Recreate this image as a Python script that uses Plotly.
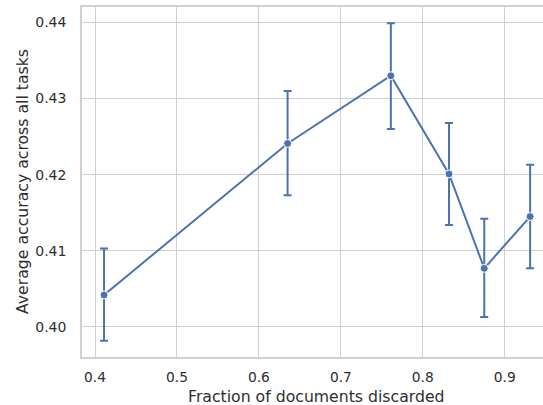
import plotly.graph_objects as go

frac_discarded = [0.411, 0.635, 0.761, 0.832, 0.875, 0.931]
avg_accuracy = [0.4042, 0.4241, 0.4330, 0.4201, 0.4077, 0.4145]
err_upper = [0.4103, 0.4310, 0.4399, 0.4268, 0.4142, 0.4213]
err_lower = [0.3982, 0.4173, 0.4260, 0.4134, 0.4013, 0.4077]

x_ticks = [0.4, 0.5, 0.6, 0.7, 0.8, 0.9]
y_ticks = [0.40, 0.41, 0.42, 0.43, 0.44]
x_title = "Fraction of documents discarded"
y_title = "Average accuracy across all tasks"

plus = [u - m for u, m in zip(err_upper, avg_accuracy)]
minus = [m - l for m, l in zip(avg_accuracy, err_lower)]

color = "#4c72b0"
fig = go.Figure()
fig.add_trace(go.Scatter(
    x=frac_discarded, y=avg_accuracy, mode="lines+markers",
    line=dict(color=color, width=2),
    marker=dict(color=color, size=8, line=dict(color="white", width=1)),
    error_y=dict(type="data", symmetric=False, array=plus, arrayminus=minus,
                 color=color, thickness=2, width=4),
    showlegend=False, cliponaxis=False,
))

grid = "#d0d0d0"
font_family = "DejaVu Sans"
text_color = "#2e2e2e"
fig.update_layout(
    width=543, height=405,
    margin=dict(l=82, r=0, t=7, b=48, autoexpand=False),
    paper_bgcolor="white", plot_bgcolor="white",
    font=dict(family=font_family, color=text_color, size=14),
    annotations=[
        dict(text=x_title, xref="paper", yref="paper", x=0.5, y=0,
             xanchor="center", yanchor="middle", yshift=-39, xshift=4,
             showarrow=False, font=dict(size=15.7, family=font_family, color=text_color)),
        dict(text=y_title, xref="paper", yref="paper", x=0, y=0.5,
             xanchor="center", yanchor="middle", xshift=-60, textangle=-90,
             showarrow=False, font=dict(size=15.7, family=font_family, color=text_color)),
    ],
)
fig.update_xaxes(
    range=[0.3841, 0.9467], tickvals=x_ticks, tickformat=".1f",
    tickfont=dict(size=13.8),
    showgrid=True, gridcolor=grid, gridwidth=1.2,
    showline=True, linecolor=grid, linewidth=1.5, mirror=True,
    zeroline=False, ticks="", ticklabelstandoff=7, automargin=False,
)
fig.update_yaxes(
    range=[0.39605, 0.44203], tickvals=y_ticks, tickformat=".2f",
    tickfont=dict(size=14),
    showgrid=True, gridcolor=grid, gridwidth=1.2,
    showline=True, linecolor=grid, linewidth=1.5,
    zeroline=False, ticks="", ticklabelstandoff=11, automargin=False,
)
fig.write_html(
    "out.html",
    config={"displayModeBar": False},
    post_script="document.body.style.margin='0';document.body.style.overflow='hidden';",
)
